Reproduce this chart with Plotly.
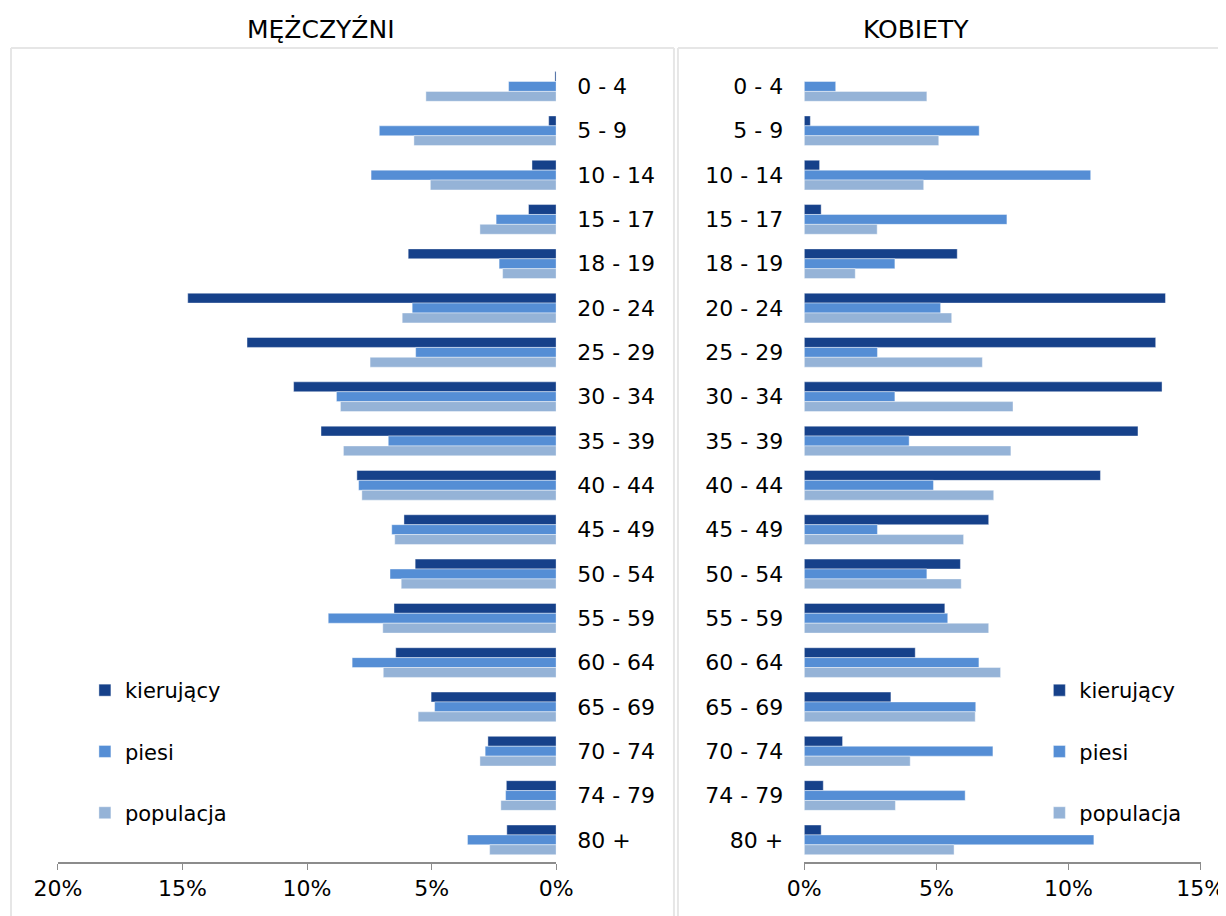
import plotly.graph_objects as go

W, H = 1245, 916

age_groups = ["0 - 4", "5 - 9", "10 - 14", "15 - 17", "18 - 19", "20 - 24", "25 - 29",
              "30 - 34", "35 - 39", "40 - 44", "45 - 49", "50 - 54", "55 - 59",
              "60 - 64", "65 - 69", "70 - 74", "74 - 79", "80 +"]

# men (MĘŻCZYŹNI), % share
men_drivers = [0.05, 0.3, 0.97, 1.11, 5.94, 14.79, 12.41, 10.54, 9.44, 8.0,
               6.11, 5.66, 6.51, 6.44, 5.02, 2.74, 2.0, 1.98]
men_pedestrians = [1.91, 7.1, 7.43, 2.41, 2.29, 5.78, 5.64, 8.82, 6.74, 7.93,
                   6.6, 6.67, 9.15, 8.19, 4.88, 2.85, 2.03, 3.56]
men_population = [5.23, 5.71, 5.05, 3.06, 2.15, 6.18, 7.47, 8.66, 8.54, 7.8,
                  6.48, 6.22, 6.96, 6.94, 5.54, 3.06, 2.22, 2.67]

# women (KOBIETY), % share
women_drivers = [0.0, 0.23, 0.58, 0.64, 5.79, 13.67, 13.3, 13.54, 12.63, 11.21,
                 6.98, 5.91, 5.32, 4.2, 3.28, 1.45, 0.72, 0.64]
women_pedestrians = [1.19, 6.62, 10.84, 7.67, 3.43, 5.16, 2.77, 3.43, 3.97, 4.89,
                     2.77, 4.64, 5.43, 6.61, 6.49, 7.14, 6.09, 10.96]
women_population = [4.64, 5.09, 4.52, 2.76, 1.93, 5.58, 6.74, 7.9, 7.82, 7.17,
                    6.03, 5.94, 6.98, 7.43, 6.47, 4.01, 3.45, 5.67]

series_names = ["kierujący", "piesi", "populacja"]
colors = ["#16418a", "#558ed5", "#95b3d7"]
left_ticks = [20, 15, 10, 5, 0]
right_ticks = [0, 5, 10, 15]

FONT = "DejaVu Sans"

# the page lands slightly shifted/squeezed in the screenshot, so positions
# are given in screenshot pixels and mapped back to paper fractions
SX, OX, OY = 0.963, 31.0, 7.0


def tx(v):
    return (v - OX) / SX / W


def ty(v):
    return 1 - (v - OY) / H


fig = go.Figure()

men = [men_drivers, men_pedestrians, men_population]
women = [women_drivers, women_pedestrians, women_population]

for i, name in enumerate(series_names):
    fig.add_trace(go.Bar(
        x=men[i], y=age_groups, orientation="h", name=name,
        marker=dict(color=colors[i], line=dict(width=0.6, color="rgba(255,255,255,0.7)")),
        xaxis="x", yaxis="y", legend="legend", legendgroup="m" + str(i),
    ))
for i, name in enumerate(series_names):
    fig.add_trace(go.Bar(
        x=women[i], y=age_groups, orientation="h", name=name,
        marker=dict(color=colors[i], line=dict(width=0.6, color="rgba(255,255,255,0.7)")),
        xaxis="x2", yaxis="y2", legend="legend2", legendgroup="w" + str(i),
    ))

y_dom = [ty(861), ty(63.3)]
common_x = dict(showgrid=False, zeroline=False, showline=True, linecolor="#8c8c8c",
                linewidth=1.5, ticks="outside", ticklen=6, tickcolor="#8c8c8c",
                tickmode="array", tickfont=dict(family=FONT, size=22, color="black"),
                fixedrange=True)
common_y = dict(showgrid=False, zeroline=False, showline=False, ticks="",
                autorange="reversed", type="category",
                tickfont=dict(family=FONT, size=22, color="black"),
                ticklabelstandoff=20, domain=y_dom)

frame = dict(color="#e6e6e6", width=2)
legend_common = dict(xanchor="left", yanchor="top", traceorder="grouped",
                     tracegroupgap=31, bgcolor="rgba(0,0,0,0)",
                     font=dict(family=FONT, size=21, color="black"))

fig.update_layout(
    width=W, height=H,
    margin=dict(l=0, r=0, t=0, b=0),
    paper_bgcolor="white", plot_bgcolor="white",
    barmode="group", bargap=0.33, bargroupgap=0,
    font=dict(family=FONT, size=21, color="black"),
    xaxis=dict(domain=[tx(57), tx(556)], range=[20, 0], tickvals=left_ticks,
               ticktext=[f"{t}%" for t in left_ticks], anchor="y", **common_x),
    yaxis=dict(anchor="x", side="right", **common_y),
    xaxis2=dict(domain=[tx(804.5), tx(1201.5)], range=[0, 15], tickvals=right_ticks,
                ticktext=[f"{t}%" for t in right_ticks], anchor="y2", **common_x),
    yaxis2=dict(anchor="x2", side="left", **common_y),
    legend=dict(x=tx(84), y=ty(669), **legend_common),
    legend2=dict(x=tx(1040), y=ty(669), **legend_common),
    shapes=[
        dict(type="line", xref="paper", yref="paper", x0=tx(10), x1=tx(674),
             y0=ty(47), y1=ty(47), line=frame, layer="below"),
        dict(type="line", xref="paper", yref="paper", x0=tx(10), x1=tx(10),
             y0=ty(47), y1=-0.05, line=frame, layer="below"),
        dict(type="line", xref="paper", yref="paper", x0=tx(674), x1=tx(674),
             y0=ty(47), y1=-0.05, line=frame, layer="below"),
        dict(type="line", xref="paper", yref="paper", x0=tx(678), x1=1.05,
             y0=ty(47), y1=ty(47), line=frame, layer="below"),
        dict(type="line", xref="paper", yref="paper", x0=tx(678), x1=tx(678),
             y0=ty(47), y1=-0.05, line=frame, layer="below"),
    ],
    annotations=[
        dict(text="MĘŻCZYŹNI", x=tx(320), y=ty(28), xref="paper", yref="paper",
             xanchor="center", yanchor="middle", showarrow=False,
             font=dict(family=FONT, size=25, color="black")),
        dict(text="KOBIETY", x=tx(916), y=ty(28), xref="paper", yref="paper",
             xanchor="center", yanchor="middle", showarrow=False,
             font=dict(family=FONT, size=25, color="black")),
    ],
)

fig.write_html("out.html")
